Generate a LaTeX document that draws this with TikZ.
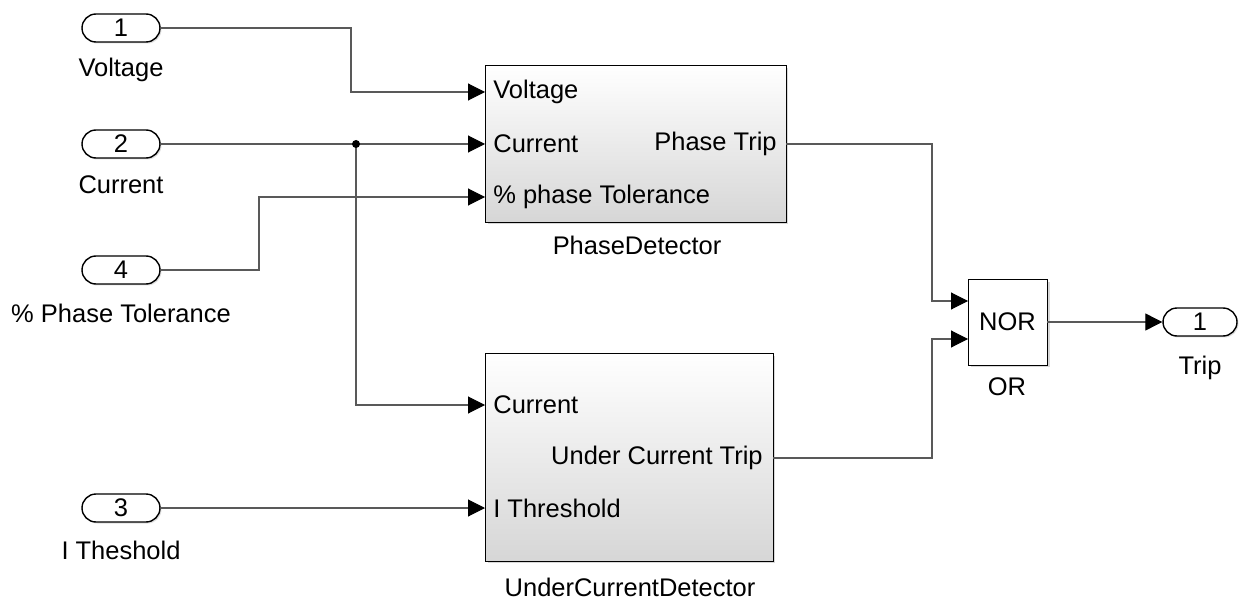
\documentclass[tikz,border=0pt]{standalone}
\usepackage{fontspec}
\setmainfont{Liberation Sans}
\usetikzlibrary{arrows.meta,shadows}

\begin{document}
\begin{tikzpicture}[x=0.02cm, y=-0.02cm, font=\fontsize{14.5}{17}\selectfont,
    >={Triangle[length=0.34cm, width=0.34cm, color=black]},
    port/.style={draw, line width=0.8pt, fill=white, rounded corners=0.28cm, minimum width=1.56cm, minimum height=0.56cm, inner sep=0pt,
        drop shadow={shadow xshift=0.03cm, shadow yshift=-0.03cm, opacity=0.25}},
    subsys/.style={draw, top color=white, bottom color=black!16, inner sep=0pt,
        drop shadow={shadow xshift=0.05cm, shadow yshift=-0.05cm, opacity=0.3}},
    gate/.style={draw, fill=white, inner sep=0pt, minimum width=1.58cm, minimum height=1.72cm,
        drop shadow={shadow xshift=0.05cm, shadow yshift=-0.05cm, opacity=0.3}},
    lbl/.style={inner sep=0pt},
    sig/.style={draw=black!65, line width=0.6pt}]
                \fill[white] (0,0) rectangle (1243,601);
                \useasboundingbox (0,0) rectangle (1243,601);

                % Define inports
                \node[port] (in1) at (121,28) {1};
                \node[lbl] (in1-lbl) at (121,70) {Voltage};
                \node[port] (in2) at (121,144) {2};
                \node[lbl] (in2-lbl) at (121,185) {Current};
                \node[port] (in4) at (121,270) {4};
                \node[lbl] (in4-lbl) at (121,313) {\% Phase Tolerance};
                \node[port] (in3) at (121,508) {3};
                \node[lbl] (in3-lbl) at (121,550) {I Theshold};

                % Define subsystems
                \node[subsys, minimum width=6.02cm, minimum height=3.14cm] (pd) at (635.5,143.5) {};
                \node[lbl] (pd-lbl) at (637,245) {PhaseDetector};
                \node[lbl, anchor=west] (pd-v) at (493,92) {Voltage};
                \node[lbl, anchor=west] (pd-c) at (493,144) {Current};
                \node[lbl, anchor=west] (pd-t) at (493,197) {\% phase Tolerance};
                \node[lbl, anchor=east] (pd-trip) at (777,144) {Phase Trip};
                \coordinate (pd-i1) at (485,92);
                \coordinate (pd-i2) at (485,144);
                \coordinate (pd-i3) at (485,197);
                \coordinate (pd-o) at (786,144);

                \node[subsys, minimum width=5.76cm, minimum height=4.16cm] (uc) at (629,457) {};
                \node[lbl] (uc-lbl) at (630,587) {UnderCurrentDetector};
                \node[lbl, anchor=west] (uc-c) at (493,405) {Current};
                \node[lbl, anchor=west] (uc-th) at (493,508) {I Threshold};
                \node[lbl, anchor=east] (uc-trip) at (763,458) {Under Current Trip};
                \coordinate (uc-i1) at (485,405);
                \coordinate (uc-i2) at (485,508);
                \coordinate (uc-o) at (773,458);

                % Define logic and outport
                \node[gate] (or) at (1007.5,322) {NOR};
                \node[lbl] (or-lbl) at (1007,387) {OR};
                \coordinate (or-i1) at (968,301);
                \coordinate (or-i2) at (968,339);
                \node[port, minimum width=1.48cm] (out1) at (1200,322) {1};
                \node[lbl] (out1-lbl) at (1200,368) {Trip};

                % Draw signal lines
                \coordinate (jn) at (356,144);
                \draw[sig, ->] (in1.east) -- (351,28) -- (351,92) -- (pd-i1);
                \draw[sig, ->] (in2.east) -- (pd-i2);
                \draw[sig, ->] (in4.east) -| (259,197) -- (pd-i3);
                \draw[sig, ->] (jn) |- (uc-i1);
                \fill (jn) circle (0.08cm);
                \draw[sig, ->] (in3.east) -- (uc-i2);
                \draw[sig, ->] (pd-o) -| (932,301) -- (or-i1);
                \draw[sig, ->] (uc-o) -| (932,339) -- (or-i2);
                \draw[sig, ->] (or.east) -- (out1.west);
            \end{tikzpicture}
\end{document}
